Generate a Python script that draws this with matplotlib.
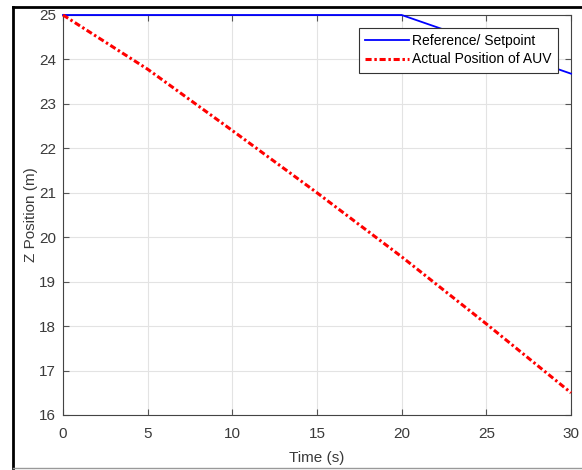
import numpy as np
import matplotlib
matplotlib.use("Agg")
import matplotlib.pyplot as plt
from matplotlib.lines import Line2D

plt.rcParams['font.family'] = ['Liberation Sans', 'DejaVu Sans']

# reference / setpoint
ref_t = [0, 20, 30]
ref_z = [25, 25, 23.68]

# actual position of AUV
auv_t = [0, 5, 10, 15, 20, 25, 30]
auv_z = [25, 23.78, 22.40, 21.00, 19.56, 18.05, 16.50]

fig = plt.figure(figsize=(5.82, 4.70), dpi=100)
ax = fig.add_axes([63/582, 1 - 415/470, 508/582, 400/470])

ax.plot(ref_t, ref_z, color='#0000ff', lw=1.3, label='Reference/ Setpoint', clip_on=False, zorder=3)
ax.plot(auv_t, auv_z, color='#ff0000', lw=2.2, dashes=(2.0, 0.9, 0.8, 0.9),
        label='Actual Position of AUV', clip_on=False, zorder=4)

ax.set_xlim(0, 30)
ax.set_ylim(16, 25)
ax.set_xticks(np.arange(0, 31, 5))
ax.set_yticks(np.arange(16, 26, 1))
ax.grid(True, color='#e3e3e3', lw=0.8)
ax.set_axisbelow(True)
ax.tick_params(direction='in', length=4, color='#555555', labelsize=11, labelcolor='#3a3a3a',
               top=True, right=True)
ax.tick_params(axis='y', pad=5)
ax.tick_params(axis='x', pad=9)
for s in ax.spines.values():
    s.set_color('#444444')
    s.set_linewidth(0.8)

ax.set_xlabel('Time (s)', fontsize=11, color='#3a3a3a', labelpad=7)
ax.set_ylabel('Z Position (m)', fontsize=11, color='#3a3a3a', labelpad=1)

leg = ax.legend(loc='upper right', bbox_to_anchor=(0.974, 0.9675), fontsize=10,
                fancybox=False, framealpha=1, edgecolor='#333333',
                borderpad=0.45, labelspacing=0.3, handlelength=3.2, handletextpad=0.2,
                borderaxespad=0)
leg.get_frame().set_linewidth(0.8)

# outer frame of the screenshot
fig.add_artist(Line2D([13/582, 1], [1 - 7/470, 1 - 7/470], transform=fig.transFigure, color='black', lw=2))
fig.add_artist(Line2D([13/582, 13/582], [1 - 7/470, 1 - 468/470], transform=fig.transFigure, color='black', lw=2))
fig.add_artist(Line2D([13/582, 1], [1 - 468/470, 1 - 468/470], transform=fig.transFigure, color='#999999', lw=1))

fig.savefig('out.png', dpi=100)
